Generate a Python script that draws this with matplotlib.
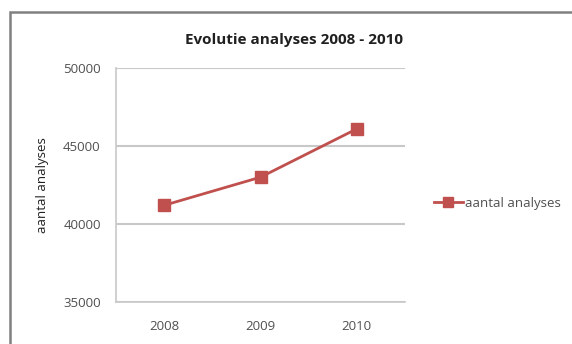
import matplotlib.pyplot as plt
from matplotlib.patches import Rectangle
from matplotlib.lines import Line2D

plt.rcParams['font.family'] = ['Open Sans', 'DejaVu Sans']

# data
years = ['2008', '2009', '2010']
analyses = [41200, 43000, 46100]
y_ticks = [35000, 40000, 45000, 50000]

red = '#c0504d'
grid_col = '#c8c8c8'
text_col = '#505050'

fig = plt.figure(figsize=(5.72, 3.44), dpi=100)
fig.patch.set_facecolor('white')

# outer chart frame (runs off the right/bottom edge)
fig.patches.append(Rectangle((10 / 572, -0.1), 1.2, 1 - 12 / 344 + 0.1,
                             transform=fig.transFigure, fill=False,
                             edgecolor='#808080', linewidth=1.8))

ax = fig.add_axes([116 / 572, 1 - 302 / 344, 289 / 572, 234 / 344])
x = range(len(years))
ax.plot(x, analyses, color=red, linewidth=2, marker='s', markersize=8.5,
        markeredgecolor=red, markerfacecolor=red, label='aantal analyses')

ax.set_xlim(-0.5, len(years) - 0.5)
ax.set_ylim(y_ticks[0], y_ticks[-1])
ax.set_yticks(y_ticks)
ax.set_yticklabels([str(v) for v in y_ticks])
ax.set_xticks(list(x))
ax.set_xticklabels(years)

ax.grid(axis='y', color=grid_col, linewidth=1.5)
ax.set_axisbelow(True)
for side in ['top', 'right']:
    ax.spines[side].set_visible(False)
for side in ['left', 'bottom']:
    ax.spines[side].set_color(grid_col)
    ax.spines[side].set_linewidth(1.2)
ax.tick_params(length=0, labelsize=9.5, labelcolor=text_col, pad=11)
ax.tick_params(axis='x', pad=13)

ax.set_ylabel('aantal analyses', fontsize=9.5, color='#202020')
ax.yaxis.set_label_coords(-(116 - 49) / 289, 0.5)
fig.text(294 / 572, 1 - 40 / 344, 'Evolutie analyses 2008 - 2010',
         ha='center', va='center', fontsize=11, fontweight='bold', color='#202020')

handle = Line2D([], [], color=red, linewidth=2, marker='s', markersize=7.5)
fig.legend([handle], ['aantal analyses'], loc='center left',
           bbox_to_anchor=(422 / 572, 1 - 203 / 344), frameon=False,
           fontsize=9.5, handlelength=2.2, handletextpad=0.15,
           labelcolor=text_col)

fig.savefig('out.png', dpi=100)
